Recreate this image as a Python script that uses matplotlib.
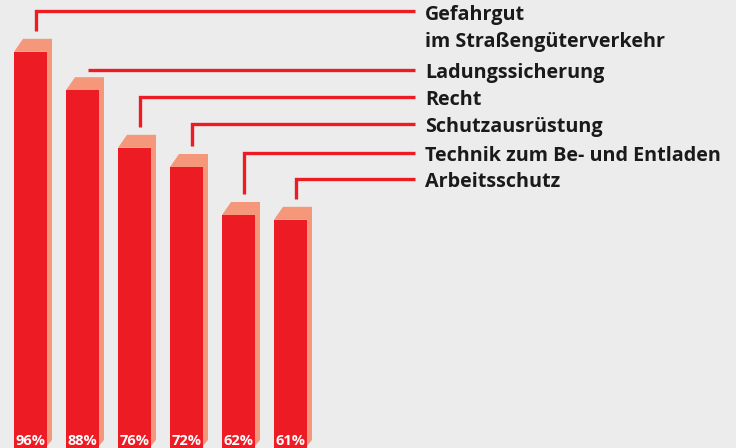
import matplotlib
matplotlib.use("Agg")
import matplotlib.pyplot as plt
from matplotlib.patches import Polygon

# survey results, left to right
values = [96, 88, 76, 72, 62, 61]
pct_labels = ["96%", "88%", "76%", "72%", "62%", "61%"]
topics = ["Gefahrgut\nim Straßengüterverkehr", "Ladungssicherung", "Recht",
          "Schutzausrüstung", "Technik zum Be- und Entladen", "Arbeitsschutz"]

W, H = 736, 448
FRONT = "#ed1c24"
SIDE = "#f5977a"
TEXT = "#1a1a1a"
BG = "#ececec"

# vertical scale: pixels per percent, baseline below the picture edge
S = 4.8
BASE = 512.6  # px from top where 0% would sit
# horizontal layout in px
X0, STEP, BW = 14, 52, 33
DX_TOP, DY_TOP, SIDE_W = 9, 13, 5
ROW_Y = [11, 70, 97, 124, 153, 179]  # px from top of the leader rows
LABEL_X = 425
LINE_END = 415


def vy(px):
    # px from top -> value units
    return (BASE - px) / S


fig = plt.figure(figsize=(W / 100, H / 100), dpi=100)
fig.patch.set_facecolor(BG)
ax = fig.add_axes([0, 0, 1, 1])
ax.set_facecolor(BG)
ax.set_xlim(0, W)
ax.set_ylim(vy(H), vy(0))
ax.axis("off")

lefts = [X0 + STEP * i for i in range(len(values))]
ax.bar(lefts, [v - vy(H + 5) for v in values], width=BW, bottom=vy(H + 5),
       align="edge", color=FRONT, linewidth=0, zorder=3)

for i, v in enumerate(values):
    L = lefts[i]
    R = L + BW
    top = v
    up = DY_TOP / S
    poly = [(L, top), (L + DX_TOP, top + up), (R + SIDE_W, top + up),
            (R + SIDE_W, vy(440)), (R, vy(446)), (R, top)]
    ax.add_patch(Polygon(poly, closed=True, color=SIDE, linewidth=0, zorder=2))

    ax.text(L + BW / 2, vy(441), pct_labels[i], color="white", fontsize=10.5,
            fontweight="bold", family="Open Sans", ha="center", va="center", zorder=4)

    # leader line
    row = vy(ROW_Y[i])
    lx = L + 22
    bottom = top + up + 8 / S
    if bottom < row:
        ax.plot([lx, lx, LINE_END], [bottom, row, row], color=FRONT, lw=2.4,
                solid_joinstyle="miter", solid_capstyle="butt", zorder=3)
    else:
        ax.plot([lx, LINE_END], [row, row], color=FRONT, lw=2.4,
                solid_capstyle="butt", zorder=3)

    if i == 0:
        ax.text(LABEL_X, vy(ROW_Y[i] - 6), topics[i], color=TEXT, fontsize=14.2,
                fontweight="bold", family="Open Sans", ha="left", va="top",
                linespacing=1.45)
    else:
        ax.text(LABEL_X, vy(ROW_Y[i] + 3), topics[i], color=TEXT, fontsize=14.2,
                fontweight="bold", family="Open Sans", ha="left", va="center")

fig.savefig("out.png", dpi=100, facecolor=BG)
